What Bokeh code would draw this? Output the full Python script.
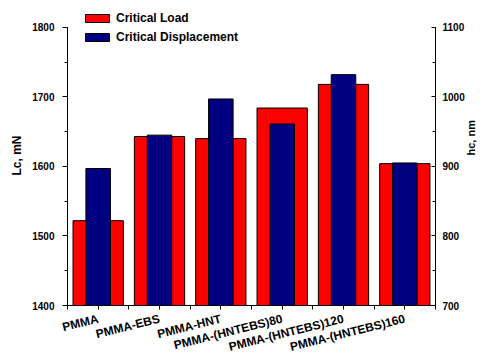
import math
from bokeh.plotting import figure
from bokeh.models import Range1d, LinearAxis, FixedTicker, SingleIntervalTicker, Legend, LegendItem
from bokeh.embed import file_html
from bokeh.resources import INLINE

categories = ["PMMA", "PMMA-EBS", "PMMA-HNT", "PMMA-(HNTEBS)80",
              "PMMA-(HNTEBS)120", "PMMA-(HNTEBS)160"]
critical_load = [1522, 1643, 1640, 1684, 1718, 1604]        # Lc, mN (left axis)
critical_displacement = [897, 945, 997, 961, 1032, 905]     # hc, nm (right axis)

xpos = [i + 0.5 for i in range(len(categories))]

FONT = "Liberation Sans"
TOP_PAD = 22 / 0.7   # extra data room above the axes' end so the legend is not clipped

p = figure(width=485, height=363, output_backend="svg", toolbar_location=None,
           x_range=Range1d(0, len(categories)), y_range=Range1d(1400, 1800 + TOP_PAD),
           min_border_left=67, min_border_right=45, min_border_top=5, min_border_bottom=56)
p.outline_line_color = None
p.xgrid.visible = False
p.ygrid.visible = False
p.background_fill_color = "white"
p.border_fill_color = "white"

p.extra_y_ranges = {"hc": Range1d(700, 1100 + TOP_PAD)}

r_load = p.vbar(x=xpos, top=critical_load, bottom=1400, width=0.82,
                fill_color="#FF0000", line_color="black", line_width=1)
r_disp = p.vbar(x=xpos, top=critical_displacement, bottom=700, width=0.4,
                y_range_name="hc", fill_color="#000080", line_color="black", line_width=1)

def style(ax, size="10px", label_size="12px"):
    ax.major_label_text_font = FONT
    ax.major_label_text_font_style = "bold"
    ax.major_label_text_font_size = size
    ax.major_label_text_color = "black"
    ax.axis_label_text_font = FONT
    ax.axis_label_text_font_style = "bold"
    ax.axis_label_text_font_size = label_size
    ax.axis_label_text_color = "black"
    ax.axis_line_color = "black"
    ax.axis_line_width = 1
    ax.major_tick_line_color = "black"
    ax.minor_tick_line_color = "black"

# bottom axis
xa = p.xaxis[0]
xa.ticker = FixedTicker(ticks=xpos, minor_ticks=list(range(0, len(categories) + 1)))
xa.major_label_overrides = {x: c for x, c in zip(xpos, categories)}
xa.major_label_orientation = math.radians(14)
xa.major_tick_in = 0
xa.major_tick_out = 4
xa.minor_tick_in = 0
xa.minor_tick_out = 4
xa.major_label_standoff = 9
style(xa, size="12px")

# left axis
ya = p.yaxis[0]
ya.ticker = SingleIntervalTicker(interval=100, num_minor_ticks=2)
ya.bounds = (1400, 1800)
ya.axis_label = "Lc, mN"
ya.major_tick_in = 0
ya.major_tick_out = 5
ya.minor_tick_in = 0
ya.minor_tick_out = 3
ya.major_label_standoff = 8
ya.axis_label_standoff = 5
style(ya)

# right axis
ra = LinearAxis(y_range_name="hc", axis_label="hc, nm",
                ticker=SingleIntervalTicker(interval=100, num_minor_ticks=2))
ra.bounds = (700, 1100)
ra.major_tick_in = 4
ra.major_tick_out = 0
ra.minor_tick_in = 3
ra.minor_tick_out = 0
ra.major_label_standoff = 7
ra.axis_label_standoff = 3
ra.axis_label_orientation = math.pi / 2
style(ra, label_size="11px")
p.add_layout(ra, "right")

legend = Legend(items=[LegendItem(label="Critical Load", renderers=[r_load]),
                       LegendItem(label="Critical Displacement", renderers=[r_disp])],
                location=(15, 261), orientation="vertical",
                glyph_width=30, glyph_height=10, label_height=10,
                spacing=5, padding=0, margin=0, label_standoff=4,
                border_line_color=None, background_fill_alpha=0,
                label_text_font=FONT, label_text_font_style="bold",
                label_text_font_size="12px", label_text_color="black")
p.add_layout(legend, "center")

open("out.html", "w").write(file_html(p, INLINE))
